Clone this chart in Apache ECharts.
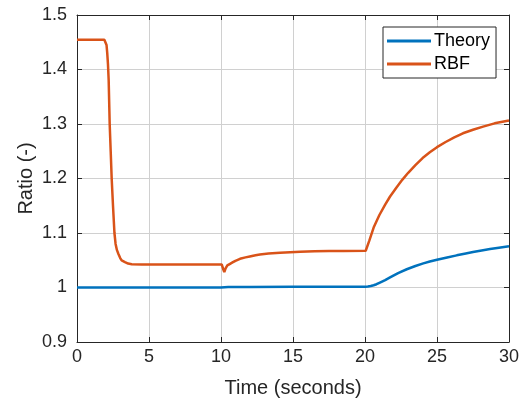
<!DOCTYPE html>
<html>
<head>
<meta charset="utf-8">
<script src="https://cdn.jsdelivr.net/npm/echarts@6/dist/echarts.min.js"></script>
<style>
  html, body { margin: 0; padding: 0; background: #fff; }
  #chart { width: 527px; height: 408px; }
</style>
</head>
<body>
<div id="chart"></div>
<script>
// Time samples (s) and ratio values for the analytical curve
const theoryTime  = [0, 5, 10, 10.5, 12, 15, 20, 20.2, 20.4, 20.6, 20.8, 21.0, 21.4, 21.74, 22.3, 22.9, 23.5, 24.05, 24.5, 25, 25.7, 26.37, 27, 27.5, 28.1, 28.68, 29.3, 30];
const theoryRatio = [1.0, 1.0, 1.0, 1.0008, 1.001, 1.0012, 1.0012, 1.0017, 1.0027, 1.0042, 1.006, 1.0085, 1.0135, 1.0185, 1.0265, 1.0335, 1.0395, 1.0442, 1.0476, 1.0508, 1.055, 1.059, 1.0625, 1.065, 1.068, 1.0705, 1.073, 1.0757];

// Time samples (s) and ratio values for the RBF estimate
const rbfTime  = [0, 1.9, 1.98, 2.05, 2.1, 2.15, 2.2, 2.27, 2.34, 2.41, 2.5, 2.6, 2.68, 2.77, 2.87, 3.0, 3.1, 3.33, 3.55, 3.8, 4.5,
                  10.05, 10.15, 10.23, 10.32, 10.44, 10.6, 10.8, 11.0, 11.32, 11.7, 12.0, 12.4, 12.7, 13.3, 14.1, 14.8, 15.5, 16.5, 17.5, 18.5, 20.05,
                  20.1, 20.3, 20.6, 21.0, 21.4, 21.74, 22.2, 22.6, 23.0, 23.5, 24.0, 24.5, 25.0, 25.6, 26.2, 26.8, 27.5, 28.2, 29.0, 30];
const rbfRatio = [1.4544, 1.4544, 1.453, 1.445, 1.43, 1.41, 1.38, 1.30, 1.25, 1.199, 1.15, 1.10, 1.080, 1.069, 1.062, 1.054, 1.0497, 1.0466, 1.044, 1.0428, 1.0423,
                  1.0423, 1.034, 1.0282, 1.035, 1.0405, 1.043, 1.046, 1.049, 1.0527, 1.0553, 1.057, 1.0592, 1.0606, 1.0622, 1.0637, 1.0648, 1.0655, 1.0664, 1.0669, 1.0672, 1.0675,
                  1.068, 1.086, 1.110, 1.133, 1.152, 1.167, 1.184, 1.198, 1.2105, 1.2245, 1.2375, 1.248, 1.2575, 1.267, 1.2755, 1.283, 1.2895, 1.2952, 1.3012, 1.3064];

const xTicks = { min: 0, max: 30, interval: 5 };
const yTicks = { min: 0.9, max: 1.5, interval: 0.1 };

const pairs = (xs, ys) => xs.map((x, i) => [x, ys[i]]);

const ink = '#262626';
const font = 'Liberation Sans, Arial, Helvetica, sans-serif';
const gridColor = '#d0d0d0';

const chart = echarts.init(document.getElementById('chart'), null, { renderer: 'canvas' });

// Plain axes that only close the box on the top and right sides
const boxAxisX = (pos) => ({
  type: 'value', position: pos, min: xTicks.min, max: xTicks.max, interval: xTicks.interval,
  axisLine: { show: true, onZero: false, lineStyle: { color: ink, width: 1 } },
  axisTick: { show: true, inside: true, length: 5, lineStyle: { color: ink } },
  axisLabel: { show: false }, splitLine: { show: false }
});
const boxAxisY = (pos) => ({
  type: 'value', position: pos, min: yTicks.min, max: yTicks.max, interval: yTicks.interval,
  axisLine: { show: true, onZero: false, lineStyle: { color: ink, width: 1 } },
  axisTick: { show: true, inside: true, length: 5, lineStyle: { color: ink } },
  axisLabel: { show: false }, splitLine: { show: false }
});

chart.setOption({
  animation: false,
  backgroundColor: '#ffffff',
  grid: { left: 77, right: 18, top: 15, bottom: 66, containLabel: false },
  xAxis: [
    {
      type: 'value', position: 'bottom', min: xTicks.min, max: xTicks.max, interval: xTicks.interval,
      name: 'Time (seconds)', nameLocation: 'middle', nameGap: 36, nameMoveOverlap: false,
      nameTextStyle: { color: ink, fontSize: 20, fontFamily: font },
      axisLine: { show: true, onZero: false, lineStyle: { color: ink, width: 1 } },
      axisTick: { show: true, inside: true, length: 5, lineStyle: { color: ink } },
      axisLabel: { color: ink, fontSize: 18, fontFamily: font, margin: 6 },
      splitLine: { show: true, lineStyle: { color: gridColor, width: 1 } }
    },
    boxAxisX('top')
  ],
  yAxis: [
    {
      type: 'value', position: 'left', min: yTicks.min, max: yTicks.max, interval: yTicks.interval,
      name: 'Ratio (-)', nameLocation: 'middle', nameGap: 41, nameRotate: 90, nameMoveOverlap: false,
      nameTextStyle: { color: ink, fontSize: 20, fontFamily: font },
      axisLine: { show: true, onZero: false, lineStyle: { color: ink, width: 1 } },
      axisTick: { show: true, inside: true, length: 5, lineStyle: { color: ink } },
      axisLabel: {
        color: ink, fontSize: 18, fontFamily: font, margin: 10,
        formatter: (v) => String(Number(v.toFixed(1)))
      },
      splitLine: { show: true, lineStyle: { color: gridColor, width: 1 } }
    },
    boxAxisY('right')
  ],
  legend: {
    orient: 'vertical',
    left: 383, top: 27,
    padding: [4, 6, 4, 4],
    itemGap: 3,
    itemWidth: 44, itemHeight: 3,
    icon: 'rect',
    backgroundColor: '#ffffff',
    borderColor: ink, borderWidth: 1, borderRadius: 0,
    textStyle: { color: '#000000', fontSize: 18, lineHeight: 20, fontFamily: font, padding: [0, 0, 0, -2] },
    data: ['Theory', 'RBF']
  },
  series: [
    {
      name: 'Theory', type: 'line', xAxisIndex: 0, yAxisIndex: 0,
      data: pairs(theoryTime, theoryRatio),
      showSymbol: false, symbol: 'none', smooth: false,
      color: '#0072BD',
      lineStyle: { color: '#0072BD', width: 2.5 }
    },
    {
      name: 'RBF', type: 'line', xAxisIndex: 0, yAxisIndex: 0,
      data: pairs(rbfTime, rbfRatio),
      showSymbol: false, symbol: 'none', smooth: false,
      color: '#D95319',
      lineStyle: { color: '#D95319', width: 2.5 }
    }
  ]
});
</script>
</body>
</html>
